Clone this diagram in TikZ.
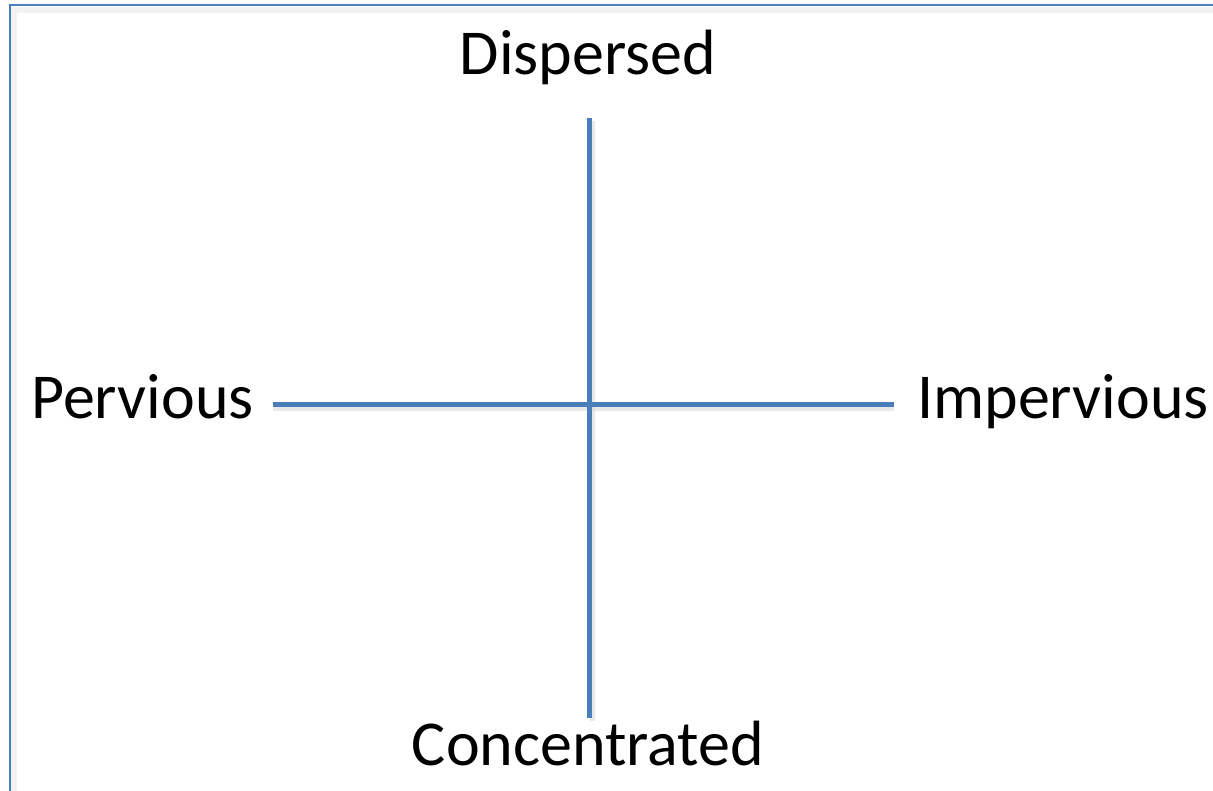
\documentclass[tikz,border=0pt]{standalone}
\usepackage{fontspec}
\setmainfont{Carlito}
\definecolor{axisblue}{HTML}{4A7EBB}
\definecolor{shade}{HTML}{D9D9D9}
\begin{document}
\begin{tikzpicture}[x=1pt,y=-1pt,
  lbl/.style={font=\fontsize{64}{76}\selectfont, inner sep=0pt, anchor=base, text=black},
  axis/.style={draw=axisblue, line width=5pt},
  axshadow/.style={draw=shade, line width=5pt, opacity=0.6},
  frame/.style={draw=axisblue, line width=2.2pt}]
\useasboundingbox (0,0) rectangle (1213,791);
% frame (extends past right and bottom edges)
\draw[draw=shade, line width=6pt, opacity=0.35] (14,820) -- (14,10) -- (1240,10);
\draw[frame] (10,820) -- (10,5) -- (1240,5);
% coordinates
\coordinate (vt) at (589,118);
\coordinate (vb) at (589,718);
\coordinate (hl) at (273,405);
\coordinate (hr) at (894,405);
% shadows
\draw[axshadow] ([xshift=3pt,yshift=-3pt]vt) -- ([xshift=3pt,yshift=-3pt]vb);
\draw[axshadow] ([yshift=-4pt]hl) -- ([yshift=-4pt]hr);
% axes
\draw[axis] (vt) -- (vb);
\draw[axis] (hl) -- (hr);
% labels
\node[lbl] (disp) at (588,75) {Dispersed};
\node[lbl] (conc) at (588,765) {Concentrated};
\node[lbl, anchor=base west] (perv) at (31,418) {Pervious};
\node[lbl, anchor=base west] (imp) at (917,418) {Impervious};
\end{tikzpicture}
\end{document}
